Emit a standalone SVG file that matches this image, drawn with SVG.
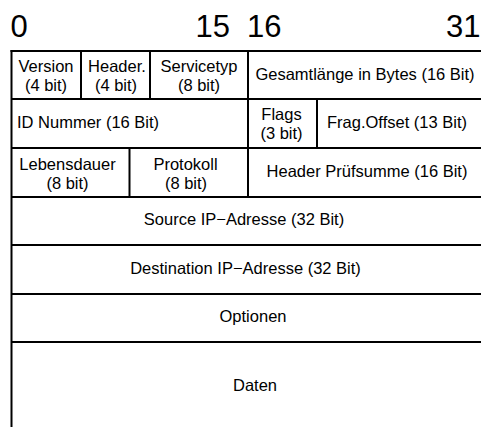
<svg xmlns="http://www.w3.org/2000/svg" width="481" height="427" viewBox="0 0 481 427">
<style>
.t{font-family:"Liberation Sans",Arial,Helvetica,sans-serif;font-size:16.5px;fill:#000}
.c{text-anchor:middle}
.h{font-family:"Liberation Sans",Arial,Helvetica,sans-serif;font-size:31px;fill:#000}
.g line{stroke:#000;stroke-width:2;fill:none}
</style>
<rect width="481" height="427" fill="#fff"/>
<g id="bit-numbers">
<text class="h" x="10.5" y="37">0</text>
<text class="h" x="195.5" y="37">15</text>
<text class="h" x="247" y="37">16</text>
<text class="h" x="446" y="37">31</text>
</g>
<g id="grid" class="g">
<line x1="11.5" y1="50" x2="11.5" y2="427"/>
<line x1="10.5" y1="51" x2="481" y2="51"/>
<line x1="11.5" y1="99" x2="481" y2="99"/>
<line x1="11.5" y1="148" x2="481" y2="148"/>
<line x1="11.5" y1="197" x2="481" y2="197"/>
<line x1="11.5" y1="245" x2="481" y2="245"/>
<line x1="11.5" y1="294" x2="481" y2="294"/>
<line x1="11.5" y1="342" x2="481" y2="342"/>
<line x1="81" y1="51" x2="81" y2="99"/>
<line x1="150" y1="51" x2="150" y2="99"/>
<line x1="248" y1="51" x2="248" y2="197"/>
<line x1="317" y1="99" x2="317" y2="148"/>
<line x1="129.5" y1="148" x2="129.5" y2="197"/>
</g>
<g id="version"><text class="t c" x="46" y="72">Version</text><text class="t c" x="46" y="91">(4 bit)</text></g>
<g id="header-length"><text class="t c" x="117" y="72">Header.</text><text class="t c" x="116" y="91">(4 bit)</text></g>
<g id="servicetyp"><text class="t c" x="199" y="72">Servicetyp</text><text class="t c" x="199" y="91">(8 bit)</text></g>
<g id="gesamtlaenge"><text class="t c" x="365" y="80">Gesamtlänge in Bytes (16 Bit)</text></g>
<g id="id-nummer"><text class="t" x="17" y="128">ID Nummer (16 Bit)</text></g>
<g id="flags"><text class="t c" x="281.5" y="119.5">Flags</text><text class="t c" x="281.5" y="138.5">(3 bit)</text></g>
<g id="frag-offset"><text class="t c" x="397" y="128">Frag.Offset (13 Bit)</text></g>
<g id="lebensdauer"><text class="t c" x="67.5" y="170">Lebensdauer</text><text class="t c" x="67.5" y="188.5">(8 bit)</text></g>
<g id="protokoll"><text class="t c" x="185.5" y="170">Protokoll</text><text class="t c" x="186" y="188.5">(8 bit)</text></g>
<g id="header-pruefsumme"><text class="t c" x="367" y="177">Header Prüfsumme (16 Bit)</text></g>
<g id="source"><text class="t c" x="244" y="225">Source IP−Adresse (32 Bit)</text></g>
<g id="destination"><text class="t c" x="245.5" y="273.5">Destination IP−Adresse (32 Bit)</text></g>
<g id="optionen"><text class="t c" x="253" y="322">Optionen</text></g>
<g id="daten"><text class="t c" x="255" y="391">Daten</text></g>
</svg>
